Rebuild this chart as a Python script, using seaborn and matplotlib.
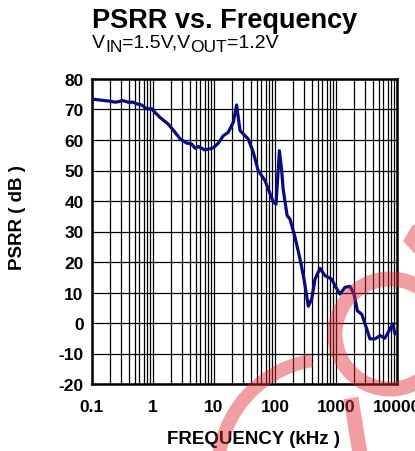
import numpy as np
import pandas as pd
import matplotlib
matplotlib.use("Agg")
import matplotlib.pyplot as plt
import matplotlib.patches as mpatches
from matplotlib.lines import Line2D
from matplotlib.ticker import FixedLocator, NullFormatter, LogLocator
from matplotlib.transforms import offset_copy
import seaborn as sns

# ---------------- data ----------------
freq_khz = [0.1, 0.15, 0.2, 0.24, 0.28, 0.31, 0.39, 0.47, 0.55, 0.65, 0.79, 0.95,
            1.3, 1.78, 2.3, 2.8, 3.56, 4.3, 4.9, 5.5, 7.1, 9.7, 11.8, 14.2, 17.1,
            20.7, 23.5, 26.7, 36.5, 44, 53, 68.5, 77.6, 94, 104, 113, 118, 128,
            136, 158, 176, 213, 257, 299, 351, 400, 453, 547, 661, 851, 964,
            1164, 1406, 1700, 1974, 2240, 2640, 3200, 3600, 4360, 5300, 6300,
            7190, 8500, 9270]
psrr_db = [73.4, 73.0, 72.7, 72.4, 72.6, 73.0, 72.4, 72.4, 71.8, 71.5, 70.2, 70.2,
           67.4, 65.2, 62.5, 60.3, 59.0, 58.7, 57.3, 57.9, 56.7, 57.4, 59.0, 61.4,
           62.5, 65.8, 71.5, 63.1, 60.3, 56.0, 50.0, 46.7, 43.9, 39.6, 39.0, 50.5,
           56.5, 50.5, 43.9, 35.2, 34.1, 28.1, 21.0, 14.4, 5.5, 7.9, 14.4, 17.9,
           15.5, 14.4, 12.2, 9.5, 11.7, 12.0, 9.5, 4.0, 2.9, -2.0, -5.2, -5.2,
           -4.1, -5.0, -3.0, -0.3, -3.6]
x_ticks = [0.1, 1, 10, 100, 1000, 10000]
x_tick_labels = ["0.1", "1", "10", "100", "1000", "10000"]
y_ticks = [-20, -10, 0, 10, 20, 30, 40, 50, 60, 70, 80]
y_tick_labels = ["-20", "-10", "0", "10", "20", "30", "40", "50", "60", "70", "80"]

title = "PSRR vs. Frequency"
# subtitle pieces: (text, is_subscript)
subtitle_parts = [("V", False), ("IN", True), ("=1.5V,V", False), ("OUT", True), ("=1.2V", False)]
x_label = "FREQUENCY (kHz )"
y_label = "PSRR ( dB )"

df = pd.DataFrame({"freq": freq_khz, "psrr": psrr_db})

# ---------------- style ----------------
sns.set_style("white")
plt.rcParams["font.family"] = ["Liberation Sans", "DejaVu Sans"]
plt.rcParams["text.color"] = "black"
plt.rcParams["axes.labelcolor"] = "black"
plt.rcParams["xtick.color"] = "black"
plt.rcParams["ytick.color"] = "black"

W, H = 415, 452
fig = plt.figure(figsize=(W / 100, H / 100), dpi=100)
fig.patch.set_facecolor("white")

L, R, T, B = 92, 397, 80, 385
ax = fig.add_axes([L / W, 1 - B / H, (R - L) / W, (B - T) / H])

sns.lineplot(data=df, x="freq", y="psrr", ax=ax, color="#0b0b80",
             linewidth=2.3, sort=False, estimator=None, zorder=5)

ax.set_xscale("log")
ax.set_xlim(0.1, 10000)
ax.set_ylim(-20, 80)

ax.xaxis.set_major_locator(FixedLocator(x_ticks))
ax.set_xticklabels(x_tick_labels)
ax.xaxis.set_minor_locator(LogLocator(base=10, subs=np.arange(2, 10)))
ax.xaxis.set_minor_formatter(NullFormatter())
ax.set_yticks(y_ticks)
ax.set_yticklabels(y_tick_labels)

ax.grid(True, which="major", axis="both", color="black", linewidth=0.9)
ax.grid(True, which="minor", axis="x", color="black", linewidth=0.9)
ax.set_axisbelow(True)

for s in ax.spines.values():
    s.set_visible(True)
    s.set_color("black")
    s.set_linewidth(1.8)

ax.tick_params(axis="both", which="both", length=0, labelcolor="black")
ax.tick_params(axis="x", which="major", pad=10.5, labelsize=12.5)
ax.tick_params(axis="y", which="major", pad=6, labelsize=12.5)
for lab in ax.get_xticklabels() + ax.get_yticklabels():
    lab.set_fontweight("bold")
    lab.set_color("black")

ax.set_xlabel(x_label, fontsize=13.5, fontweight="bold", color="black")
ax.set_ylabel(y_label, fontsize=13.5, fontweight="bold", color="black")
ax.xaxis.set_label_coords((253 - L) / (R - L), (B - 431) / (B - T))
ax.yaxis.set_label_coords((18 - L) / (R - L), (B - 218) / (B - T))
ax.xaxis.label.set_va("top")
ax.yaxis.label.set_va("center")

fig.text(L / W, 1 - 28 / H, title, fontsize=19.5, fontweight="bold",
         ha="left", va="baseline", color="black")

# subtitle built from pieces (main text + subscripts)
renderer = fig.canvas.get_renderer()
x_px = 0.0
base = fig.transFigure
for txt, is_sub in subtitle_parts:
    size = 12.5 if is_sub else 14
    dy = -4 if is_sub else 0
    tr = offset_copy(base, fig=fig, x=x_px, y=dy, units="dots")
    t = fig.text(L / W, 1 - 48 / H, txt, fontsize=size, ha="left",
                 va="baseline", color="black", transform=tr)
    x_px += t.get_window_extent(renderer=renderer).width

# ---------------- watermark (decorative) ----------------
wm_color = (225 / 255, 40 / 255, 50 / 255, 0.45)
lw_px = 15 * 0.72


def fx(px):
    return px / W


def fy(py):
    return 1 - py / H


ring = mpatches.Ellipse((fx(390), fy(335)), 2 * 55 / W, 2 * 55 / H,
                        fill=False, edgecolor=wm_color, linewidth=lw_px,
                        transform=fig.transFigure, zorder=10)
fig.add_artist(ring)

arc = mpatches.Arc((fx(330), fy(472)), 2 * 112 / W, 2 * 112 / H,
                   theta1=100, theta2=185, edgecolor=wm_color, linewidth=lw_px * 0.9,
                   transform=fig.transFigure, zorder=10)
fig.add_artist(arc)

stroke = Line2D([fx(351), fx(360)], [fy(399), fy(455)], color=wm_color,
                linewidth=lw_px, solid_capstyle="butt",
                transform=fig.transFigure, zorder=10)
fig.add_artist(stroke)

wedge = mpatches.Polygon([(fx(403), fy(242)), (fx(412), fy(227)),
                          (fx(416), fy(225)), (fx(416), fy(256))],
                         closed=True, facecolor=wm_color, edgecolor="none",
                         transform=fig.transFigure, zorder=10)
fig.add_artist(wedge)

fig.savefig("out.png", dpi=100)
